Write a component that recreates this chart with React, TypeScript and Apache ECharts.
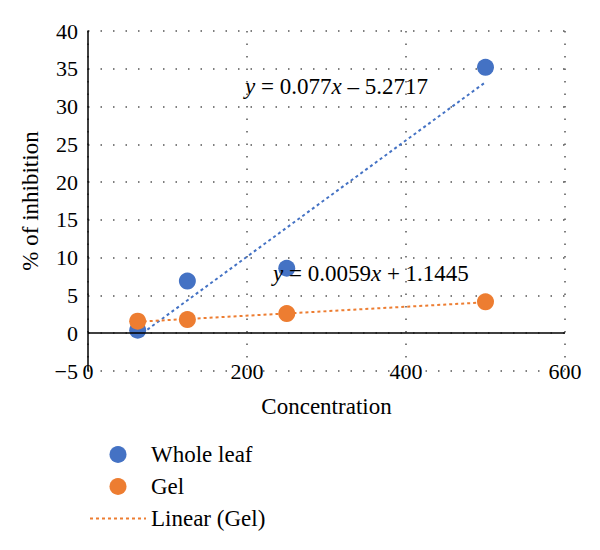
import React, { useEffect, useRef } from "react";
import * as echarts from "echarts";

const concentrations = [62.5, 125, 250, 500];
const wholeLeaf = [0.4, 6.9, 8.6, 35.2];
const gel = [1.6, 1.8, 2.6, 4.15];
const wholeLeafFit = { slope: 0.077, intercept: -5.2717 };
const gelFit = { slope: 0.0059, intercept: 1.1445 };
const xTicks = { min: 0, max: 600, interval: 200 };
const yTicks = { min: -5, max: 40, interval: 5 };

const BLUE = "#4472C4";
const ORANGE = "#ED7D31";
const FONT = "'Liberation Serif', serif";

function fitLine(fit: { slope: number; intercept: number }) {
  const x0 = Math.min(...concentrations);
  const x1 = Math.max(...concentrations);
  return [
    [x0, fit.slope * x0 + fit.intercept],
    [x1, fit.slope * x1 + fit.intercept],
  ];
}

function eqText(fit: { slope: number; intercept: number }) {
  const sign = fit.intercept < 0 ? "\u2013" : "+";
  return `{i|y} = ${fit.slope}{i|x} ${sign} ${Math.abs(fit.intercept)}`;
}

export default function App() {
  const ref = useRef<HTMLDivElement>(null);
  useEffect(() => {
    if (!ref.current) return;
    const chart = echarts.init(ref.current, undefined, { renderer: "svg" });
    const grid = { color: "#555", width: 1.5, type: [1.5, 11] as any };
    const eqStyle = (t: string) => ({
      text: t,
      fontSize: 23,
      fontFamily: FONT,
      fill: "#000",
      verticalAlign: "middle",
      rich: {
        i: { fontStyle: "italic", fontSize: 23, fontFamily: FONT, fill: "#000" },
      },
    });
    chart.setOption({
      animation: false,
      backgroundColor: "#fff",
      textStyle: { fontFamily: FONT, color: "#000" },
      grid: { left: 80, right: 43, top: 23, bottom: 187 },
      xAxis: {
        type: "value",
        min: xTicks.min,
        max: xTicks.max,
        interval: xTicks.interval,
        axisLine: { show: false },
        axisTick: { show: false },
        axisLabel: {
          margin: 0,
          verticalAlign: "middle",
          fontSize: 22,
          fontFamily: FONT,
          color: "#000",
        },
        splitLine: { show: true, lineStyle: grid },
        name: "Concentration",
        nameLocation: "middle",
        nameGap: 24,
        nameTextStyle: { fontSize: 23, fontFamily: FONT, color: "#000" },
      },
      yAxis: {
        type: "value",
        min: yTicks.min,
        max: yTicks.max,
        interval: yTicks.interval,
        axisLine: { show: true, onZero: false, lineStyle: { color: "#000", width: 1.5 } },
        axisTick: { show: false },
        axisLabel: {
          margin: 10,
          fontSize: 22,
          fontFamily: FONT,
          color: "#000",
          formatter: (v: number) => String(v).replace("-", "\u2212"),
        },
        splitLine: { show: true, lineStyle: grid },
        name: "% of inhibition",
        nameLocation: "middle",
        nameGap: 46,
        nameTextStyle: { fontSize: 23, fontFamily: FONT, color: "#000" },
      },
      legend: {
        orient: "vertical",
        left: 76,
        top: 430,
        itemWidth: 56,
        itemHeight: 17,
        itemGap: 9,
        data: [
          "Whole leaf",
          "Gel",
          { name: "Linear (Gel)", itemStyle: { opacity: 0 } },
        ],
        textStyle: { fontSize: 23, fontFamily: FONT, color: "#000" },
      },
      series: [
        {
          name: "Linear (Whole leaf)",
          type: "line",
          data: fitLine(wholeLeafFit),
          symbol: "none",
          lineStyle: { color: BLUE, width: 2, type: [3, 3] },
          z: 2,
          markLine: {
            silent: true,
            symbol: "none",
            label: { show: false },
            lineStyle: { color: "#000", width: 1.5, type: "solid" },
            data: [{ yAxis: 0 }],
          },
        },
        {
          name: "Linear (Gel)",
          type: "line",
          data: fitLine(gelFit),
          symbol: "none",
          itemStyle: { color: ORANGE },
          lineStyle: { color: ORANGE, width: 2, type: [3, 3] },
          z: 2,
        },
        {
          name: "Whole leaf",
          type: "scatter",
          data: concentrations.map((c, i) => [c, wholeLeaf[i]]),
          symbolSize: 17,
          itemStyle: { color: BLUE, opacity: 1 },
          z: 3,
        },
        {
          name: "Gel",
          type: "scatter",
          data: concentrations.map((c, i) => [c, gel[i]]),
          symbolSize: 17,
          itemStyle: { color: ORANGE, opacity: 1 },
          z: 3,
        },
      ],
      graphic: [
        { type: "text", x: 237, y: 78, z: 10, style: eqStyle(eqText(wholeLeafFit)) },
        { type: "text", x: 265, y: 265, z: 10, style: eqStyle(eqText(gelFit)) },
      ],
    });
    return () => chart.dispose();
  }, []);
  return <div ref={ref} style={{ width: 600, height: 550 }} />;
}
